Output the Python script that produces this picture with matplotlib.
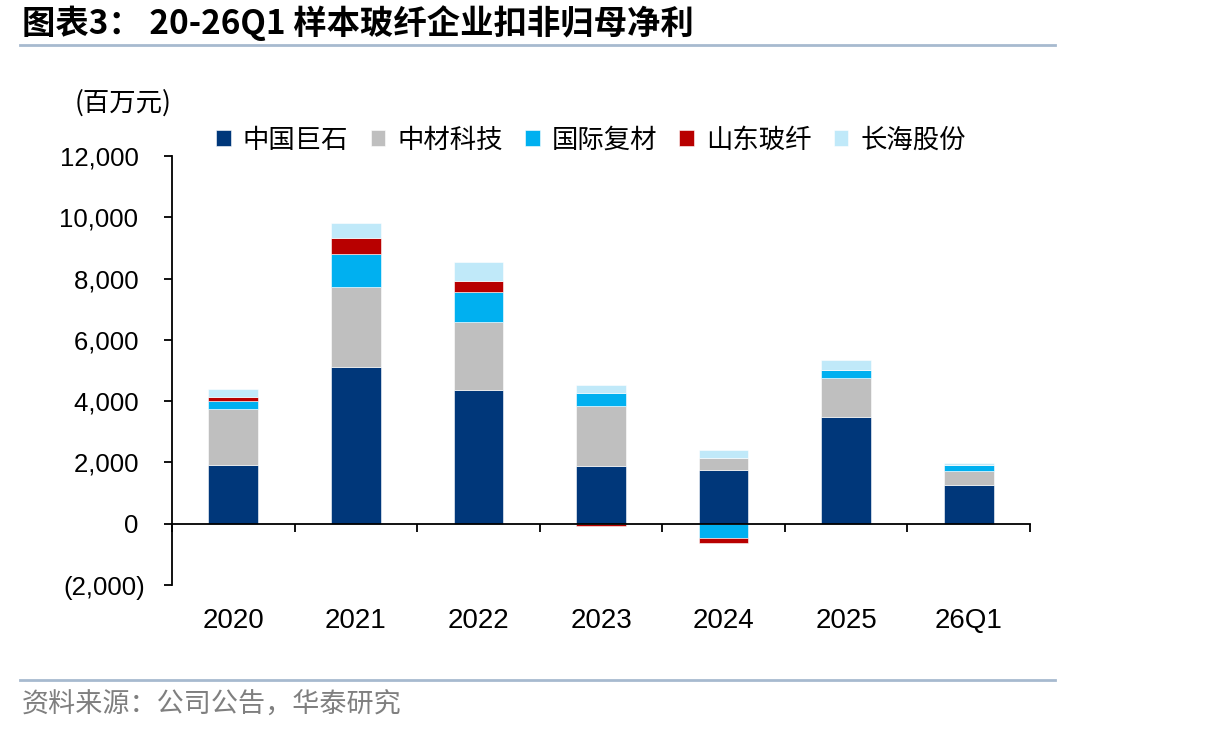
import matplotlib
matplotlib.use("Agg")
import matplotlib.pyplot as plt
import numpy as np
from matplotlib.ticker import FuncFormatter, FixedLocator

plt.rcParams['font.family'] = ['Liberation Sans', 'Noto Sans CJK SC', 'DejaVu Sans']

# data (百万元)
categories = ["2020", "2021", "2022", "2023", "2024", "2025", "26Q1"]
companies = ["中国巨石", "中材科技", "国际复材", "山东玻纤", "长海股份"]
jushi    = [1900, 5130, 4350, 1870, 1760, 3470, 1250]
zhongcai = [1850, 2600, 2230, 1970,  370, 1280,  460]
guoji    = [ 240, 1080,  970,  410, -480,  250,  210]
shandong = [ 150,  520,  380,  -60, -160,    0,    0]
changhai = [ 250,  480,  610,  280,  280,  340,   70]
colors = ["#00377A", "#BFBFBF", "#00B0F0", "#B80000", "#C0E9F9"]

series = [jushi, zhongcai, guoji, shandong, changhai]

fig = plt.figure(figsize=(12.06, 7.34), dpi=100)
ax = fig.add_axes([172/1206, 1-585/734, (1030-172)/1206, (585-156)/734])

x = np.arange(len(categories))
pos = np.zeros(len(categories))
neg = np.zeros(len(categories))
handles = []
for vals, c, name in zip(series, colors, companies):
    v = np.array(vals, dtype=float)
    bottom = np.where(v >= 0, pos, neg)
    b = ax.bar(x, v, 0.405, bottom=bottom, color=c, label=name,
               edgecolor="white", linewidth=0.4, zorder=2)
    handles.append(b)
    pos = pos + np.where(v >= 0, v, 0)
    neg = neg + np.where(v < 0, v, 0)

ax.set_xlim(-0.5, len(categories) - 0.5)
ax.set_ylim(-2000, 12000)
ax.set_yticks(np.arange(-2000, 12001, 2000))

# accounting style: positives keep room for the closing bracket
def fmt(v, p):
    if v < 0:
        return "({:,.0f})".format(-v)
    return "{:,.0f} ".format(v)
ax.yaxis.set_major_formatter(FuncFormatter(fmt))
ax.tick_params(axis='y', labelsize=18.5, length=6, width=1.3, direction='out', pad=13)

for s in ["top", "right"]:
    ax.spines[s].set_visible(False)
ax.spines["left"].set_linewidth(1.3)
ax.spines["bottom"].set_position(("data", 0))
ax.spines["bottom"].set_linewidth(1.3)
ax.spines["bottom"].set_zorder(3)

ax.set_xticks(x)
ax.set_xticklabels(categories)
ax.xaxis.set_minor_locator(FixedLocator(np.arange(-0.5, len(categories), 1.0)))
ax.tick_params(axis='x', which='major', length=0, labelsize=20, pad=61)
ax.tick_params(axis='x', which='minor', length=6, width=1.3, direction='out')

leg = ax.legend(handles=handles, loc="center", bbox_to_anchor=(591/1206, 1-140/734),
                bbox_transform=fig.transFigure, ncol=5, frameon=False,
                prop={'family': ['Noto Sans CJK SC'], 'size': 19},
                handlelength=0.55, handleheight=0.55, handletextpad=0.45,
                columnspacing=0.85)

fig.text(75/1206, 1-103/734, "(百万元)", fontsize=19, va="center", ha="left",
         family=['Noto Sans CJK SC'])

fig.text(22/1206, 1-23/734, "图表3： 20-26Q1 样本玻纤企业扣非归母净利", fontsize=24,
         fontweight="bold", va="center", ha="left", family=['Noto Sans CJK SC'])
fig.add_artist(plt.Line2D([20/1206, 1055/1206], [1-45/734, 1-45/734],
                          color="#A7BACF", linewidth=2, transform=fig.transFigure))
fig.add_artist(plt.Line2D([20/1206, 1055/1206], [1-680/734, 1-680/734],
                          color="#A7BACF", linewidth=2, transform=fig.transFigure))
fig.text(22/1206, 1-705/734, "资料来源：公司公告，华泰研究", fontsize=19.5, color="#7F7F7F",
         va="center", ha="left", family=['Noto Sans CJK SC'])

fig.savefig("out.png", dpi=100)
